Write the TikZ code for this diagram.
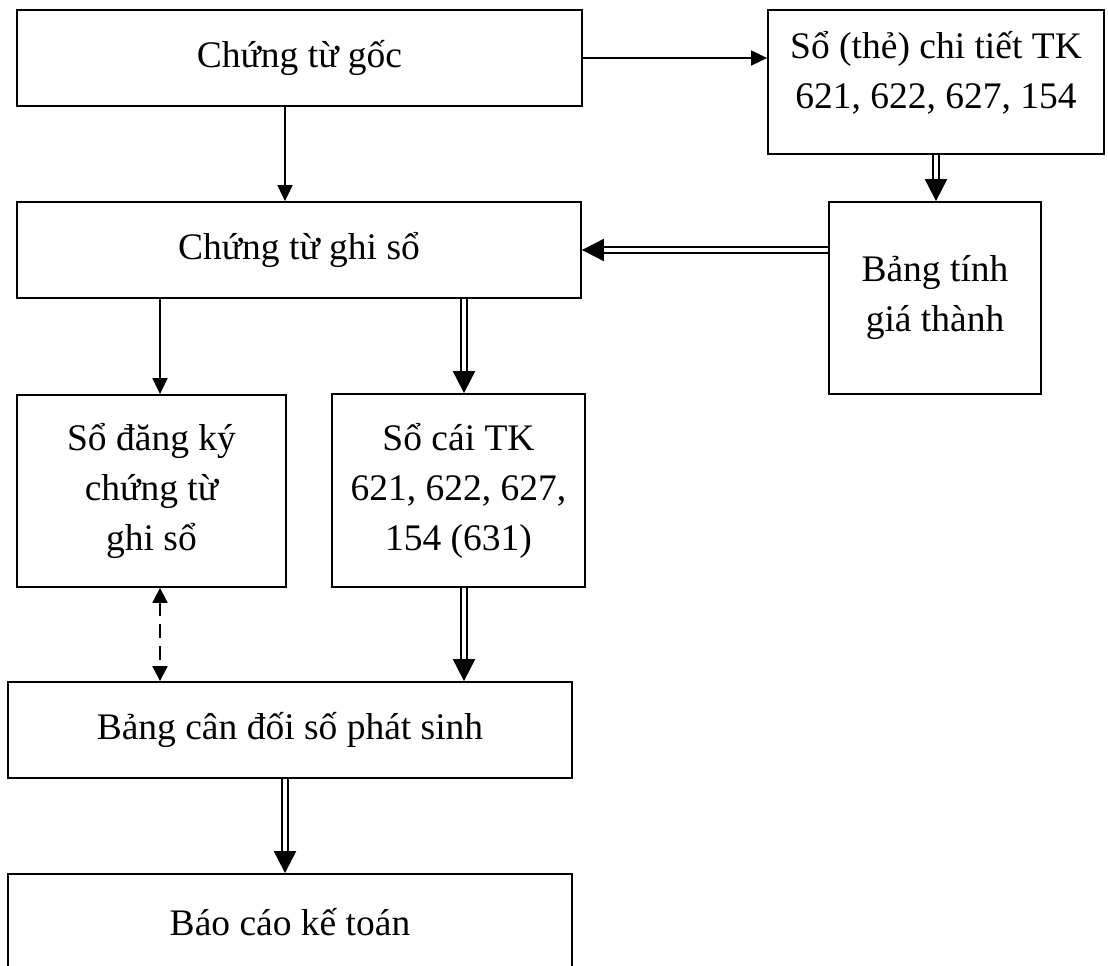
\documentclass[tikz,border=0pt]{standalone}
\usepackage{fontspec}
\setmainfont{Liberation Serif}
\usetikzlibrary{arrows.meta}
\tikzset{
  box/.style={draw, line width=1.8pt, rectangle, inner sep=0pt, align=center,
    font=\fontsize{37.5}{50}\selectfont},
  sarrow/.style={line width=1.8pt, -{Triangle[length=16pt,width=15pt]}},
  darrow/.style={line width=2pt, double, double distance=3.2pt,
    -{Triangle[length=22pt,width=22pt]}},
  dasharrow/.style={line width=1.8pt, dash pattern=on 14pt off 8pt,
    {Triangle[length=15pt,width=15pt]}-{Triangle[length=15pt,width=15pt]}},
}
\begin{document}
\begin{tikzpicture}[x=1pt,y=-1pt]
\useasboundingbox (0,0) rectangle (1108,966);
\node[box, minimum width=565pt, minimum height=96pt] (cg) at (299.5,58) {Chứng từ gốc};
\node[box, minimum width=336pt, minimum height=144pt] (sct) at (936,82)
  {Sổ (thẻ) chi tiết TK\\621, 622, 627, 154\rule[-24pt]{0pt}{0pt}};
\node[box, minimum width=564pt, minimum height=96pt] (cgs) at (299,250) {Chứng từ ghi sổ};
\node[box, minimum width=212pt, minimum height=192pt] (btg) at (935,298) {Bảng tính\\giá thành};
\node[box, minimum width=269pt, minimum height=192pt] (sdk) at (151.5,491) {Sổ đăng ký\\chứng từ\\ghi sổ};
\node[box, minimum width=253pt, minimum height=193pt] (sc) at (458.5,490.5) {Sổ cái TK\\621, 622, 627,\\154 (631)};
\node[box, minimum width=564pt, minimum height=96pt] (bcd) at (290,730) {Bảng cân đối số phát sinh};
\node[box, minimum width=564pt, minimum height=96pt] (bc) at (290,922) {Báo cáo kế toán};
\coordinate (xa) at (160,0);
\coordinate (xb) at (285,0);
\coordinate (xc) at (464,0);
\draw[sarrow] (cg.east) -- (cg.east -| sct.west);
\draw[sarrow] (cg.south -| xb) -- (cgs.north -| xb);
\draw[darrow] (sct.south) -- (sct.south |- btg.north);
\draw[darrow] (btg.west |- cgs.east) -- (cgs.east);
\draw[sarrow] (cgs.south -| xa) -- (sdk.north -| xa);
\draw[darrow] (cgs.south -| xc) -- (sc.north -| xc);
\draw[dasharrow] (sdk.south -| xa) -- (bcd.north -| xa);
\draw[darrow] (sc.south -| xc) -- (bcd.north -| xc);
\draw[darrow] (bcd.south -| xb) -- (bc.north -| xb);
\end{tikzpicture}
\end{document}
